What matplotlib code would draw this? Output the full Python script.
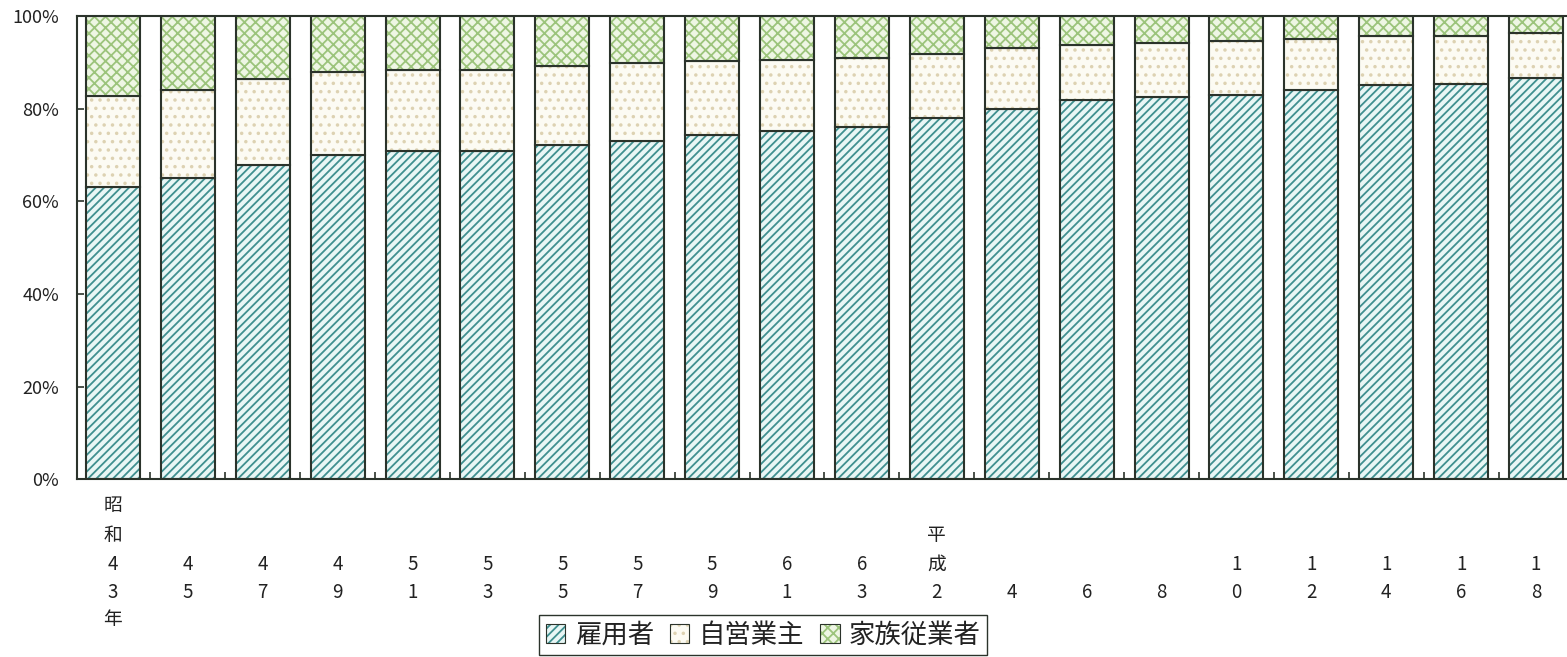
import matplotlib
matplotlib.use('Agg')
import matplotlib.pyplot as plt
import matplotlib.transforms as mtransforms
from matplotlib.patches import Patch
import numpy as np

plt.rcParams['font.family'] = ['Noto Sans CJK JP', 'DejaVu Sans']
plt.rcParams['hatch.linewidth'] = 1.3

# data (share of workers, %)
years = ["昭和43年", "45", "47", "49", "51", "53", "55", "57", "59", "61", "63",
         "平成2", "4", "6", "8", "10", "12", "14", "16", "18"]
employee = [63.0, 65.1, 67.8, 69.9, 70.8, 70.9, 72.1, 73.0, 74.3, 75.2,
            76.1, 77.9, 80.0, 81.8, 82.5, 83.0, 84.1, 85.1, 85.4, 86.6]
self_employed = [19.7, 19.0, 18.5, 18.1, 17.6, 17.5, 17.2, 16.8, 15.9, 15.4,
                 14.9, 14.0, 13.1, 11.9, 11.7, 11.5, 11.0, 10.5, 10.2, 9.8]
family = [17.3, 15.9, 13.7, 12.0, 11.6, 11.6, 10.7, 10.2, 9.8, 9.4,
          9.0, 8.1, 6.9, 6.3, 5.8, 5.5, 4.9, 4.4, 4.4, 3.6]
series_names = ["雇用者", "自営業主", "家族従業者"]
yticks = [0, 20, 40, 60, 80, 100]

edge = '#2b332b'
styles = [('#e8f6f5', '#3f8f8f', '////'),
          ('#fcfbf3', '#ddd2b2', '..'),
          ('#eef6e4', '#9cc47c', 'xxx')]

fig = plt.figure(figsize=(15.67, 6.57), dpi=100)
W, H = 1567, 657
ax = fig.add_axes([77 / W, (H - 479.3) / H, (1572 - 77) / W, (479.3 - 16) / H])

x = np.arange(len(years))
bottom = np.zeros(len(years))
handles = []
for vals, (fc, hc, hatch) in zip([employee, self_employed, family], styles):
    vals = np.array(vals)
    ax.bar(x, vals, 0.72, bottom=bottom, color=fc, edgecolor=hc,
           linewidth=0, hatch=hatch)
    ax.bar(x, vals, 0.72, bottom=bottom, fill=False, edgecolor=edge,
           linewidth=1.5)
    bottom += vals
    handles.append((Patch(facecolor=fc, edgecolor=hc, hatch=hatch, linewidth=0),
                    Patch(fill=False, edgecolor=edge, linewidth=0.8)))

ax.set_xlim(-0.48, len(years) - 0.52)
ax.set_ylim(0, 100)
for s in ['top', 'left', 'bottom', 'right']:
    ax.spines[s].set_color(edge)
    ax.spines[s].set_linewidth(1.5)

ax.set_yticks(yticks)
ax.set_yticklabels([f"{v}%" for v in yticks])
ax.tick_params(axis='y', direction='in', length=5, width=1.2, color=edge,
               labelsize=13, pad=13, labelcolor='#222222')
ax.set_xticks([])
ax.set_xticks(x[:-1] + 0.5, minor=True)
ax.tick_params(axis='x', which='minor', direction='in', length=5, width=1.2,
               color=edge)

# vertical category labels, one character per line
trans = mtransforms.blended_transform_factory(ax.transData, fig.transFigure)
for xi, lab in zip(x, years):
    chars = list(lab)
    last = max(i for i, c in enumerate(chars) if c.isdigit())
    for k, c in enumerate(chars):
        if k <= last:
            ypx = 593 - 29 * (last - k)
        else:
            ypx = 593 + 26 * (k - last)
        ax.text(xi, 1 - ypx / H, c, transform=trans, ha='center', va='center',
                fontsize=13.5, color='#222222')

leg = fig.legend(handles, series_names, loc='upper left',
                 bbox_to_anchor=(539 / W, 1 - 615 / H), ncol=3, fontsize=19,
                 frameon=True, fancybox=False, edgecolor=edge, framealpha=1,
                 handlelength=0.75, handleheight=0.75, handletextpad=0.35,
                 columnspacing=0.6, borderpad=0.25, borderaxespad=0)
leg.get_frame().set_linewidth(1.0)
for t in leg.get_texts():
    t.set_color('#222222')

fig.savefig('out.png', dpi=100)
